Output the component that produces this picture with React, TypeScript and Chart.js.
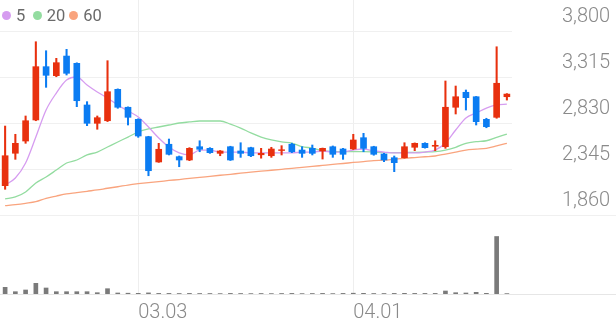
import React, { useEffect, useRef } from "react";
import { Chart, registerables } from "chart.js";

Chart.register(...registerables);

// ---- data ----
const dates = [
  "02.09", "02.10", "02.15", "02.16", "02.17", "02.18", "02.19", "02.22", "02.23", "02.24",
  "02.25", "02.26", "03.02", "03.03", "03.04", "03.05", "03.08", "03.09", "03.10", "03.11",
  "03.12", "03.15", "03.16", "03.17", "03.18", "03.19", "03.22", "03.23", "03.24", "03.25",
  "03.26", "03.29", "03.30", "03.31", "04.01", "04.02", "04.05", "04.06", "04.07", "04.08",
  "04.09", "04.12", "04.13", "04.14", "04.15", "04.16", "04.19", "04.20", "04.21", "04.22",
];
const xTickLabels = ["03.03", "04.01"];

const opens = [
  2169, 2511, 2640, 2862, 3424, 3329, 3536, 3459, 3020, 2827,
  2854, 3185, 2996, 2869, 2686, 2419, 2606, 2475, 2440, 2580,
  2563, 2510, 2580, 2535, 2570, 2495, 2485, 2540, 2606, 2545,
  2563, 2535, 2580, 2556, 2556, 2675, 2580, 2503, 2464, 2464,
  2574, 2616, 2585, 2580, 2996, 3154, 3107, 2869, 2890, 3107,
];
const highs = [
  2798, 2711, 2904, 3687, 3592, 3512, 3607, 3465, 3055, 2904,
  3487, 3190, 3000, 2875, 2690, 2616, 2661, 2482, 2570, 2643,
  2570, 2540, 2585, 2622, 2575, 2563, 2574, 2591, 2617, 2580,
  2598, 2566, 2588, 2563, 2711, 2721, 2585, 2510, 2482, 2622,
  2620, 2622, 2643, 3273, 3220, 3178, 3110, 2880, 3634, 3140,
];
const lows = [
  2131, 2447, 2616, 2854, 3206, 3318, 3336, 3002, 2802, 2764,
  2845, 2985, 2809, 2679, 2274, 2415, 2493, 2369, 2433, 2527,
  2510, 2485, 2435, 2468, 2475, 2459, 2468, 2493, 2517, 2468,
  2493, 2450, 2468, 2447, 2550, 2527, 2490, 2422, 2317, 2460,
  2538, 2565, 2538, 2563, 2925, 2967, 2809, 2780, 2880, 3072,
];
const closes = [
  2485, 2616, 2854, 3424, 3333, 3466, 3354, 3065, 2827, 2886,
  3160, 2996, 2890, 2693, 2327, 2553, 2500, 2440, 2563, 2553,
  2517, 2535, 2440, 2510, 2485, 2510, 2556, 2548, 2527, 2510,
  2510, 2563, 2500, 2500, 2651, 2563, 2500, 2440, 2412, 2580,
  2616, 2570, 2595, 2996, 3107, 3097, 2844, 2791, 3249, 3135,
];
const volumes = [
  670, 230, 400, 1070, 600, 230, 230, 230, 230, 130,
  530, 100, 80, 70, 110, 60, 60, 50, 60, 50,
  50, 40, 60, 50, 40, 50, 40, 50, 60, 40,
  50, 60, 40, 60, 80, 70, 50, 50, 60, 70,
  60, 60, 60, 300, 130, 100, 170, 70, 5750, 40,
];
const ma5 = [
  2176, 2250, 2408, 2682, 2967, 3146, 3283, 3315, 3231, 3157,
  3094, 3020, 2957, 2893, 2788, 2672, 2577, 2514, 2493, 2545,
  2545, 2524, 2524, 2524, 2514, 2514, 2514, 2514, 2514, 2524,
  2524, 2535, 2524, 2524, 2545, 2556, 2535, 2524, 2514, 2514,
  2514, 2524, 2545, 2619, 2756, 2883, 2935, 2988, 3020, 3030,
];
const ma20 = [
  2029, 2050, 2103, 2197, 2261, 2334, 2408, 2440, 2493, 2524,
  2577, 2630, 2682, 2735, 2767, 2788, 2809, 2830, 2841, 2851,
  2851, 2851, 2819, 2777, 2725, 2682, 2651, 2630, 2619, 2580,
  2566, 2538, 2530, 2528, 2528, 2528, 2524, 2517, 2517, 2519,
  2521, 2524, 2528, 2545, 2574, 2616, 2633, 2643, 2679, 2714,
];
const ma60 = [
  1958, 1969, 1983, 2000, 2036, 2060, 2082, 2095, 2110, 2124,
  2142, 2158, 2176, 2190, 2202, 2212, 2224, 2234, 2246, 2256,
  2268, 2279, 2289, 2301, 2311, 2322, 2332, 2342, 2352, 2363,
  2372, 2383, 2394, 2403, 2414, 2423, 2434, 2438, 2448, 2458,
  2466, 2474, 2482, 2503, 2524, 2545, 2554, 2563, 2588, 2616,
];
const yTicks = [1860, 2345, 2830, 3315, 3800];
const legendItems = ["5", "20", "60"];

// ---- styles ----
const UP = "#e8300e";
const DOWN = "#0b7cf2";
const MA_COLORS = ["#d69cf0", "#93dca0", "#f9a47e"];
const AXIS_FONT = { family: "Roboto", size: 20, weight: 300 as any };
const AXIS_COLOR = "#8a8a8a";
const GRID = "#f0f0f0";

const fullLines = {
  id: "fullLines",
  beforeDatasetsDraw(chart: any) {
    const { ctx, width } = chart;
    const y1 = Math.round(chart.scales.y.getPixelForValue(yTicks[0])) + 0.5;
    const y2 = Math.round(chart.scales.v.getPixelForValue(0)) + 0.5;
    ctx.save();
    ctx.lineWidth = 1;
    ctx.strokeStyle = GRID;
    ctx.beginPath();
    ctx.moveTo(0, y1);
    ctx.lineTo(width, y1);
    ctx.stroke();
    ctx.strokeStyle = "#e6e6e6";
    ctx.beginPath();
    ctx.moveTo(0, y2);
    ctx.lineTo(width, y2);
    ctx.stroke();
    ctx.restore();
  },
};

const noPad = (s: any) => {
  s.paddingTop = 0;
  s.paddingBottom = 0;
  s.paddingLeft = 0;
  s.paddingRight = 0;
};

export default function App() {
  const ref = useRef<HTMLCanvasElement>(null);

  useEffect(() => {
    const colors = opens.map((o, i) => (closes[i] >= o ? UP : DOWN));
    const maSets = [ma5, ma20, ma60].map((d, k) => ({
      type: "line" as const,
      label: legendItems[k],
      data: d,
      borderColor: MA_COLORS[k],
      borderWidth: 1.3,
      pointRadius: 0,
      cubicInterpolationMode: "monotone" as const,
      yAxisID: "y",
      order: 5 + k,
    }));
    const chart = new Chart(ref.current as HTMLCanvasElement, {
      type: "bar",
      data: {
        labels: dates,
        datasets: [
          {
            type: "bar",
            label: "body",
            data: opens.map((o, i) => [o, closes[i]]) as any,
            backgroundColor: colors,
            barThickness: 6,
            grouped: false,
            yAxisID: "y",
            order: 0,
          },
          {
            type: "bar",
            label: "wick",
            data: lows.map((l, i) => [l, highs[i]]) as any,
            backgroundColor: colors,
            barThickness: 1.4,
            grouped: false,
            yAxisID: "y",
            order: 1,
          },
          ...maSets,
          {
            type: "bar",
            label: "volume",
            data: volumes,
            backgroundColor: "#7a7a7a",
            barThickness: 4,
            grouped: false,
            yAxisID: "v",
            order: 2,
          },
        ] as any,
      },
      options: {
        responsive: false,
        animation: false,
        events: [],
        layout: { padding: 0, autoPadding: false } as any,
        plugins: { legend: { display: false }, tooltip: { enabled: false } },
        scales: {
          x: {
            type: "category",
            offset: true,
            afterFit: (s: any) => {
              s.height = 27;
              noPad(s);
            },
            grid: {
              offset: false,
              drawTicks: false,
              color: (c: any) => (xTickLabels.includes(dates[c.index]) ? "#eeeeee" : "rgba(0,0,0,0)"),
            },
            border: { display: false },
            ticks: {
              autoSkip: false,
              maxRotation: 0,
              minRotation: 0,
              align: "start",
              padding: 7,
              color: AXIS_COLOR,
              font: AXIS_FONT,
              callback: (_v: any, i: number) => (xTickLabels.includes(dates[i]) ? dates[i] : ""),
            },
          },
          y: {
            position: "right",
            min: 1027,
            max: 4127,
            afterBuildTicks: (s: any) => {
              s.ticks = yTicks.map((v) => ({ value: v }));
            },
            afterFit: (s: any) => {
              s.width = 104;
              noPad(s);
            },
            grid: {
              drawTicks: false,
              color: (c: any) => (c.tick && c.tick.value === yTicks[0] ? "rgba(0,0,0,0)" : GRID),
            },
            border: { display: false },
            ticks: {
              padding: 50,
              labelOffset: -14,
              color: AXIS_COLOR,
              font: AXIS_FONT,
              callback: (v: any) => Number(v).toLocaleString("en-US"),
            },
          },
          v: {
            display: false,
            position: "left",
            min: 0,
            max: 29400,
          },
        },
      } as any,
      plugins: [fullLines],
    });
    return () => chart.destroy();
  }, []);

  const legendPos = [
    { dot: 1.5, text: 16 },
    { dot: 32.8, text: 46.7 },
    { dot: 69.2, text: 83.3 },
  ];

  return (
    <div style={{ position: "fixed", left: 0, top: 0, width: 616, height: 321, background: "#fff" }}>
      <canvas ref={ref} width={616} height={321} style={{ display: "block", width: 616, height: 321 }} />
      {legendItems.map((t, k) => (
        <React.Fragment key={t}>
          <span
            style={{
              position: "absolute",
              left: legendPos[k].dot,
              top: 11.3,
              width: 9,
              height: 9,
              borderRadius: "50%",
              background: MA_COLORS[k],
            }}
          />
          <span
            style={{
              position: "absolute",
              left: legendPos[k].text,
              top: 6,
              fontFamily: "Roboto",
              fontSize: 16.5,
              lineHeight: "20px",
              color: "#6a6a6a",
              whiteSpace: "nowrap",
            }}
          >
            {t}
          </span>
        </React.Fragment>
      ))}
    </div>
  );
}
